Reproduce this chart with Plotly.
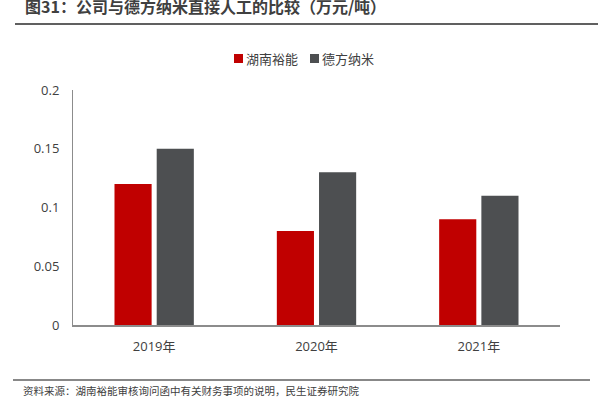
import plotly.graph_objects as go

categories = ["2019年", "2020年", "2021年"]
series_names = ["湖南裕能", "德方纳米"]
yuneng = [0.12, 0.08, 0.09]
defang = [0.15, 0.13, 0.11]
colors = ["#C00000", "#4D4F51"]
title_text = "图31：公司与德方纳米直接人工的比较（万元/吨）"
source_text = "资料来源：湖南裕能审核询问函中有关财务事项的说明，民生证券研究院"

font_family = "Open Sans, Noto Sans CJK SC, sans-serif"
cjk = "Noto Sans CJK SC, sans-serif"

fig = go.Figure()
for name, vals, c in zip(series_names, [yuneng, defang], colors):
    fig.add_trace(go.Bar(x=categories, y=vals, name=name, marker=dict(color=c, line=dict(width=0)),
                         showlegend=False))

W, H = 598, 398
L, R, T, B = 73, 38, 90, 73
PW, PH = W - L - R, H - T - B

def px(x):
    return (x - L) / PW

def py(y):
    return (H - B - y) / PH

legend_sq = [234, 310]
annotations = [
    dict(text="<b>" + title_text + "</b>", xref="paper", yref="paper",
         x=px(23), y=py(6), xanchor="left", yanchor="middle", showarrow=False,
         font=dict(size=16, color="#404040", family=cjk)),
    dict(text=source_text, xref="paper", yref="paper",
         x=px(21), y=py(390), xanchor="left", yanchor="middle", showarrow=False,
         font=dict(size=10.5, color="#404040", family=cjk)),
]
shapes = [
    dict(type="line", xref="paper", yref="paper", x0=px(15), x1=px(598),
         y0=py(24), y1=py(24), line=dict(color="#606060", width=2)),
    dict(type="line", xref="paper", yref="paper", x0=px(13), x1=px(590),
         y0=py(380), y1=py(380), line=dict(color="#606060", width=1.5)),
]
for name, c, lx in zip(series_names, colors, legend_sq):
    shapes.append(dict(type="rect", xref="paper", yref="paper", x0=px(lx), x1=px(lx + 9),
                       y0=py(54), y1=py(63), fillcolor=c, line=dict(width=0)))
    annotations.append(dict(
        text=name, xref="paper", yref="paper",
        x=px(lx + 10), y=py(58), xanchor="left", yanchor="middle", showarrow=False,
        font=dict(size=13, color="#404040", family=cjk)))

fig.update_layout(
    width=W, height=H,
    margin=dict(l=L, r=R, t=T, b=B, autoexpand=False),
    paper_bgcolor="white", plot_bgcolor="white",
    font=dict(family=font_family, size=13, color="#404040"),
    barmode="group", bargap=0.48, bargroupgap=0.12,
    showlegend=False,
    xaxis=dict(showline=True, linecolor="#8C8C8C", linewidth=1.5, ticks="", showgrid=False,
               tickfont=dict(size=13, color="#404040"), ticklabelstandoff=9),
    yaxis=dict(range=[0, 0.2], dtick=0.05, showline=True, linecolor="#8C8C8C", linewidth=1,
               showgrid=False, zeroline=False, ticks="", tickfont=dict(size=13, color="#404040"),
               ticklabelstandoff=10),
    shapes=shapes,
    annotations=annotations,
)

fig.write_html("out.html", config={"displayModeBar": False},
               post_script="document.body.style.margin='0';document.body.style.overflow='hidden';")
